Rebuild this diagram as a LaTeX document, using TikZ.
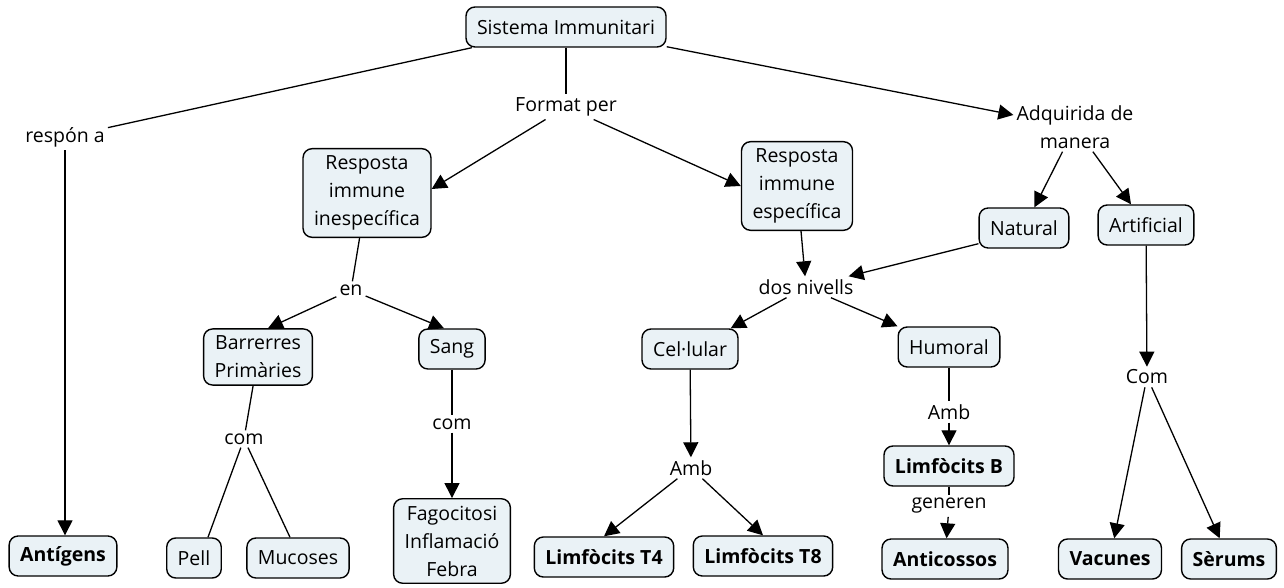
\documentclass[tikz,border=0pt]{standalone}
\usepackage{fontspec}
\setmainfont{Open Sans}
\usetikzlibrary{arrows.meta}
\definecolor{boxfill}{RGB}{234,242,246}
\tikzset{
  concept/.style={draw=black, line width=1.4pt, fill=boxfill, rounded corners=9pt,
    align=center, inner xsep=11pt, inner ysep=7pt, minimum height=40pt,
    font=\fontsize{19.5}{28}\selectfont},
  bconcept/.style={concept, font=\fontsize{19.5}{28}\selectfont\bfseries},
  linkl/.style={align=center, inner sep=3pt, font=\fontsize{19.5}{28}\selectfont},
  conn/.style={line width=1.3pt},
  arr/.style={conn, -{Triangle[length=15pt,width=15pt]}}
}
\begin{document}
\begin{tikzpicture}[x=1pt,y=-1pt]
\useasboundingbox (0,0) rectangle (1284,588);
% concepts
\node[concept] (sys) at (566,27) {Sistema Immunitari};
\node[concept] (inesp) at (367,193) {Resposta\\immune\\inespecífica};
\node[concept] (esp) at (797,186) {Resposta\\immune\\específica};
\node[concept] (nat) at (1024,228) {Natural};
\node[concept] (art) at (1146,225) {Artificial};
\node[concept] (bar) at (258,357) {Barrerres\\Primàries};
\node[concept] (sang) at (452,349) {Sang};
\node[concept] (cel) at (690,349) {Cel·lular};
\node[concept] (hum) at (949,347) {Humoral};
\node[bconcept] (limb) at (949,466) {Limfòcits B};
\node[bconcept] (ant) at (63,556) {Antígens};
\node[concept] (pell) at (194,558) {Pell};
\node[concept] (muc) at (298,558) {Mucoses};
\node[concept] (fag) at (452,541) {Fagocitosi\\Inflamació\\Febra};
\node[bconcept] (t4) at (604,557) {Limfòcits T4};
\node[bconcept] (t8) at (763,556) {Limfòcits T8};
\node[bconcept] (antic) at (945,559) {Anticossos};
\node[bconcept] (vac) at (1110,559) {Vacunes};
\node[bconcept] (ser) at (1229,559) {Sèrums};
% linking phrases
\node[linkl] (resp) at (65,137) {respón a};
\node[linkl] (fmt) at (566,107) {Format per};
\node[linkl] (adq) at (1075,127) {Adquirida de\\manera};
\node[linkl] (en) at (351,290) {en};
\node[linkl] (dos) at (806,287) {dos nivells};
\node[linkl] (com1) at (244,439) {com};
\node[linkl] (com2) at (452,424) {com};
\node[linkl] (amb1) at (691,468) {Amb};
\node[linkl] (amb2) at (949,412) {Amb};
\node[linkl] (gen) at (949,506) {generen};
\node[linkl] (com3) at (1147,377) {Com};
% connectors
\draw[conn] (sys) -- (resp);
\draw[arr] (resp) -- (ant.north -| resp);
\draw[conn] (sys) -- (fmt);
\draw[arr] (fmt) -- ([yshift=4pt]inesp.east);
\draw[arr] (fmt) -- (esp.west);
\draw[arr] (sys) -- (adq);
\draw[arr] (adq) -- (nat);
\draw[arr] (adq) -- (art);
\draw[conn] (inesp) -- (en);
\draw[arr] (en) -- ([xshift=10pt]bar.north);
\draw[arr] (en) -- ([xshift=-8pt]sang.north);
\draw[arr] (esp) -- (dos);
\draw[arr] ([yshift=5pt]nat.south west) -- (dos);
\draw[arr] (dos) -- ([xshift=-8pt]cel.north east);
\draw[arr] (dos) -- (hum.north west);
\draw[conn] (bar) -- (com1);
\draw[conn] (com1) -- ([xshift=-14pt]pell.north east);
\draw[conn] (com1) -- ([xshift=-8pt]muc.north);
\draw[conn] (sang) -- (com2);
\draw[arr] (com2) -- (fag);
\draw[arr] (cel) -- (amb1);
\draw[arr] (amb1) -- (t4.north);
\draw[arr] (amb1) -- (t8.north);
\draw[conn] (hum) -- (amb2);
\draw[arr] (amb2) -- (limb);
\draw[conn] (limb) -- (gen);
\draw[arr] (gen) -- (antic);
\draw[arr] (art) -- (com3);
\draw[arr] (com3) -- (vac);
\draw[arr] (com3) -- (ser);
\end{tikzpicture}
\end{document}
